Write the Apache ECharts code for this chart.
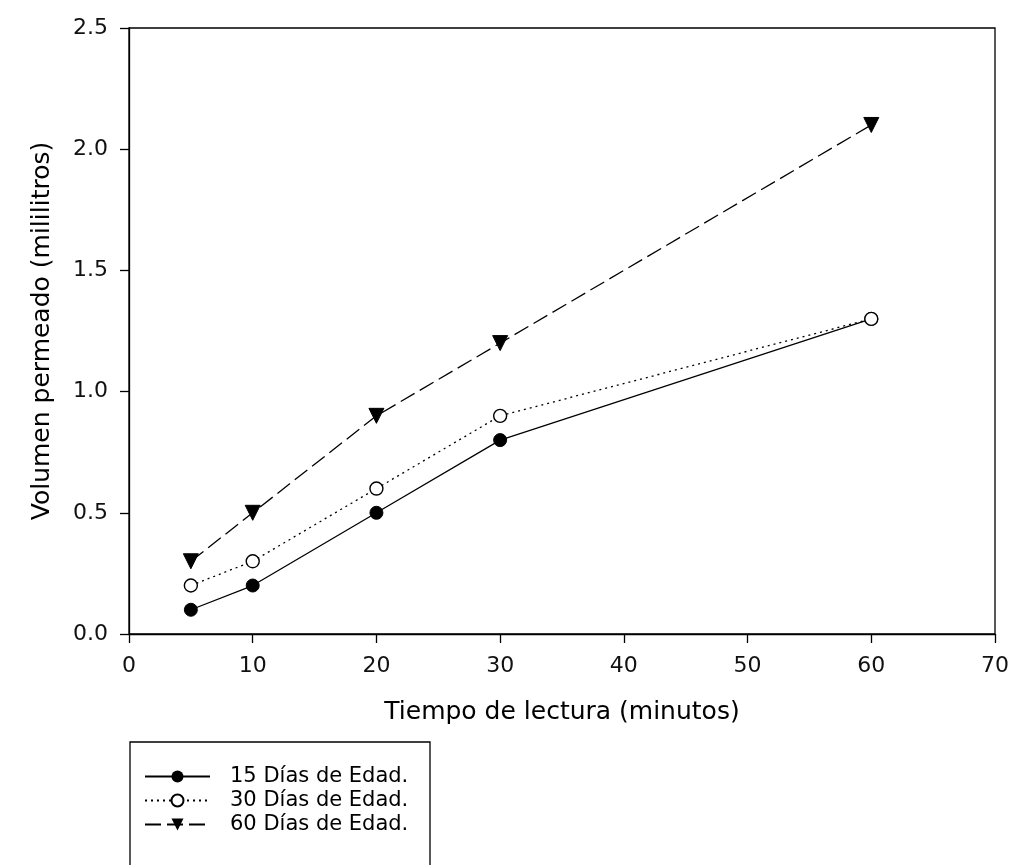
<!DOCTYPE html>
<html><head><meta charset="utf-8">
<script src="https://cdn.jsdelivr.net/npm/echarts@6/dist/echarts.min.js"></script>
<style>html,body{margin:0;padding:0;background:#fff}#c{width:1012px;height:865px}</style>
</head><body><div id="c"></div>
<script>
var xValues = [5, 10, 20, 30, 60];
var dias15 = [0.1, 0.2, 0.5, 0.8, 1.3];
var dias30 = [0.2, 0.3, 0.6, 0.9, 1.3];
var dias60 = [0.3, 0.5, 0.9, 1.2, 2.1];
var seriesNames = ['15 Días de Edad.', '30 Días de Edad.', '60 Días de Edad.'];
var xTitle = 'Tiempo de lectura (minutos)';
var yTitle = 'Volumen permeado (mililitros)';

function pairs(arr){ return xValues.map(function(x,i){ return [x, arr[i]]; }); }
var font = 'DejaVu Sans, Liberation Sans, sans-serif';
var chart = echarts.init(document.getElementById('c'), null, {renderer:'canvas'});
chart.setOption({
  backgroundColor: '#fff',
  animation: false,
  grid: {left: 129, right: 14, top: 28, bottom: 231, show: true, borderColor: '#000', borderWidth: 1.3, backgroundColor: 'transparent'},
  xAxis: {
    type: 'value', min: 0, max: 70, interval: 10,
    name: xTitle, nameLocation: 'middle', nameGap: 66,
    nameTextStyle: {fontFamily: font, fontSize: 25, color: '#000'},
    axisLine: {show: true, onZero: false, lineStyle: {color: '#000', width: 1.3}},
    axisTick: {show: true, inside: false, length: 9, lineStyle: {color: '#000', width: 1.3}},
    axisLabel: {fontFamily: font, fontSize: 22, color: '#111', margin: 21},
    splitLine: {show: false}
  },
  yAxis: {
    type: 'value', min: 0, max: 2.5, interval: 0.5,
    name: yTitle, nameLocation: 'middle', nameGap: 74, nameRotate: 90,
    nameTextStyle: {fontFamily: font, fontSize: 25, color: '#000'},
    axisLine: {show: true, onZero: false, lineStyle: {color: '#000', width: 1.3}},
    axisTick: {show: true, inside: false, length: 9, lineStyle: {color: '#000', width: 1.3}},
    axisLabel: {fontFamily: font, fontSize: 22, color: '#111', margin: 21, formatter: function(v){ return v.toFixed(1); }},
    splitLine: {show: false}
  },
  legend: {
    orient: 'vertical', left: 139, top: 761, itemGap: 3, itemWidth: 65, itemHeight: 15,
    textStyle: {fontFamily: font, fontSize: 21, color: '#000', padding: [0,0,0,15]},
    data: seriesNames
  },
  graphic: [{
    type: 'rect', shape: {x: 130, y: 742, width: 300, height: 140},
    style: {fill: 'none', stroke: '#000', lineWidth: 1.3}, silent: true
  }],
  series: [
    {name: seriesNames[0], type: 'line', data: pairs(dias15), symbol: 'circle', symbolSize: 13,
     itemStyle: {color: '#000', borderColor: '#000'}, lineStyle: {color: '#000', width: 1.3, type: 'solid'}},
    {name: seriesNames[1], type: 'line', data: pairs(dias30), symbol: 'circle', symbolSize: 13,
     itemStyle: {color: '#fff', borderColor: '#000', borderWidth: 1.4}, lineStyle: {color: '#000', width: 1.3, type: [2, 4]}},
    {name: seriesNames[2], type: 'line', data: pairs(dias60), symbol: 'triangle', symbolRotate: 180, symbolSize: 15,
     itemStyle: {color: '#000', borderColor: '#000'}, lineStyle: {color: '#000', width: 1.3, type: [16, 6]}}
  ]
});
</script></body></html>
